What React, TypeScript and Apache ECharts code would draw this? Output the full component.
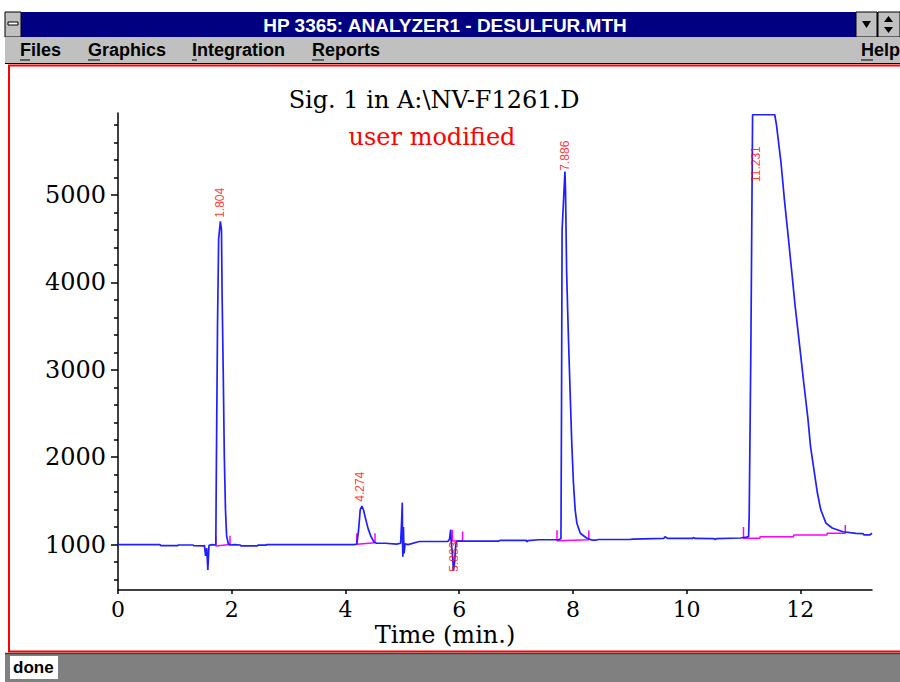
import React, { useEffect, useRef } from "react";
import * as echarts from "echarts";

// ---- data ----
const xTicks = [0, 2, 4, 6, 8, 10, 12];
const yTicks = [1000, 2000, 3000, 4000, 5000];
const yMinorTicks = [600, 800, 1200, 1400, 1600, 1800, 2200, 2400, 2600, 2800, 3200, 3400, 3600, 3800, 4200, 4400, 4600, 4800, 5200, 5400, 5600, 5800];

const signalTime = [
  0, 0.74, 0.75, 1.05, 1.06, 1.32, 1.33, 1.5, 1.52, 1.54, 1.56, 1.58, 1.6, 1.66, 1.7, 1.72, 1.73, 1.75, 1.77, 1.8,
  1.82, 1.83, 1.85, 1.87, 1.89, 1.91, 1.94, 1.97, 2.05, 2.15, 2.16, 2.45, 2.46, 2.6, 2.62, 4.15, 4.2, 4.23, 4.26, 4.29,
  4.32, 4.36, 4.4, 4.45, 4.5, 4.55, 4.7, 4.9, 4.97, 4.99, 5.0, 5.005, 5.01, 5.02, 5.03, 5.05, 5.1, 5.3, 5.8, 5.83,
  5.85, 5.86, 5.88, 5.9, 5.92, 5.94, 5.96, 6.7, 6.72, 7.18, 7.19, 7.21, 7.4, 7.75, 7.79, 7.8, 7.81, 7.86, 7.87, 7.89,
  7.92, 7.95, 7.98, 8.01, 8.04, 8.07, 8.13, 8.24, 8.3, 8.35, 8.4, 8.45, 9.0, 9.05, 9.6, 9.62, 9.66, 10.1, 10.12, 10.15,
  10.48, 10.5, 10.52, 10.95, 11.05, 11.09, 11.1, 11.13, 11.16, 11.55, 11.58, 11.66, 11.72, 11.78, 11.84, 11.91, 11.99, 12.06, 12.13, 12.18,
  12.24, 12.3, 12.36, 12.45, 12.56, 12.75, 12.98, 13.1, 13.12, 13.22, 13.26,
];
const signalValue = [
  1000, 1000, 988, 988, 995, 995, 988, 985, 990, 870, 960, 710, 990, 1000, 995, 1000, 1900, 3500, 4500, 4700,
  4600, 3900, 3000, 2000, 1400, 1100, 1010, 995, 1000, 995, 985, 985, 993, 993, 1000, 1000, 1005, 1160, 1400, 1440,
  1390, 1280, 1180, 1090, 1030, 1015, 1015, 1005, 1015, 1300, 1480, 1000, 860, 1200, 900, 1010, 1000, 1035, 1035, 1060,
  1170, 1030, 900, 700, 800, 1000, 1040, 1040, 1048, 1048, 1032, 1045, 1055, 1055, 1070, 2600, 4600, 5270, 5060, 4110,
  3400, 2770, 2160, 1700, 1395, 1245, 1130, 1075, 1060, 1050, 1050, 1058, 1058, 1062, 1072, 1090, 1072, 1070, 1080, 1070,
  1068, 1058, 1068, 1075, 1085, 1090, 1320, 3266, 5920, 5920, 5805, 5370, 4946, 4568, 4180, 3720, 3260, 2850, 2460, 2117,
  1853, 1590, 1395, 1245, 1190, 1147, 1128, 1125, 1110, 1110, 1130,
];

// integration baselines with start / end marks (null separates peaks)
const baselineTime = [
  1.72, 1.72, 1.97, 1.97, null,
  4.2, 4.2, 4.52, 4.52, null,
  5.88, 5.88, 6.06, 6.06, null,
  7.72, 7.72, 8.28, 8.28, null,
  11.0, 11.0, 11.29, 11.29, 11.88, 11.88, 12.47, 12.47, 12.79, 12.79,
];
const baselineValue = [
  1100, 985, 1000, 1100, null,
  1130, 1005, 1020, 1130, null,
  1170, 1040, 1040, 1150, null,
  1165, 1045, 1055, 1160, null,
  1200, 1071, 1071, 1090, 1090, 1109, 1109, 1130, 1130, 1225,
];

const peakNames = ["1.804", "4.274", "5.883", "7.886", "11.231"];
const peakLabelTime = [1.8, 4.26, 5.905, 7.86, 11.22];
const peakLabelValue = [4740, 1490, 690, 5280, 5150];

const menuItems = ["Files", "Graphics", "Integration", "Reports", "Help"];
const menuX = [20, 88, 192, 312, 861];

const windowTitle = "HP 3365: ANALYZER1 - DESULFUR.MTH";
const chartTitle = "Sig. 1 in A:\\NV-F1261.D";
const chartSubtitle = "user modified";
const xName = "Time (min.)";
const statusText = "done";

const SERIF = '"DejaVu Serif", "Liberation Serif", serif';
const SANS = '"Liberation Sans", Arial, sans-serif';

export default function App() {
  const ref = useRef<HTMLDivElement>(null);
  useEffect(() => {
    if (!ref.current) return;
    const chart = echarts.init(ref.current, null, { renderer: "svg" });

    const signal = signalTime.map((t, i) => [t, signalValue[i]]);
    const baseline = baselineTime.map((t, i) => (t == null ? [null, null] : [t, baselineValue[i]]));
    const peaks = peakNames.map((n, i) => ({ name: n, value: [peakLabelTime[i], peakLabelValue[i]] }));

    const menuGraphics: any[] = [];
    menuItems.forEach((m, i) => {
      menuGraphics.push({
        type: "text",
        x: menuX[i],
        y: 50,
        style: { text: m, fill: "#000", font: `bold 18px ${SANS}`, textVerticalAlign: "middle", textAlign: "left" },
      });
      const w = m[0] === "I" ? 5 : m[0] === "F" ? 10 : 12;
      menuGraphics.push({
        type: "line",
        shape: { x1: menuX[i], y1: 60, x2: menuX[i] + w, y2: 60 },
        style: { stroke: "#000", lineWidth: 1 },
      });
    });

    chart.setOption({
      animation: false,
      backgroundColor: "#ffffff",
      grid: { left: 118, right: 28, top: 113, bottom: 92, containLabel: false },
      xAxis: {
        type: "value",
        min: 0,
        max: 13.26,
        axisLine: { show: true, lineStyle: { color: "#000", width: 1.5 } },
        axisTick: { show: true, length: 4, customValues: xTicks, lineStyle: { color: "#000", width: 1.5 } },
        axisLabel: {
          customValues: xTicks,
          fontFamily: SERIF,
          fontSize: 22,
          lineHeight: 20,
          color: "#000",
          margin: 9,
          formatter: (v: number) => String(v),
        },
        splitLine: { show: false },
      },
      yAxis: [
        {
          type: "value",
          min: 480,
          max: 5940,
          axisLine: { show: true, lineStyle: { color: "#000", width: 1.5 } },
          axisTick: { show: true, length: 7, customValues: yTicks, lineStyle: { color: "#000", width: 1.5 } },
          axisLabel: {
            customValues: yTicks,
            fontFamily: SERIF,
            fontSize: 24,
            color: "#000",
            margin: 12,
            formatter: (v: number) => String(v),
          },
          splitLine: { show: false },
        },
        {
          type: "value",
          min: 480,
          max: 5940,
          position: "left",
          axisLine: { show: false },
          axisTick: { show: true, length: 4, customValues: yMinorTicks, lineStyle: { color: "#000", width: 1.5 } },
          axisLabel: { show: false },
          splitLine: { show: false },
        },
      ],
      series: [
        {
          type: "line",
          data: baseline,
          yAxisIndex: 0,
          showSymbol: false,
          connectNulls: false,
          lineStyle: { color: "#ff00ff", width: 1.5 },
          z: 2,
        },
        {
          type: "line",
          data: signal,
          yAxisIndex: 0,
          showSymbol: false,
          lineStyle: { color: "#2020ff", width: 1.7 },
          z: 3,
        },
        {
          type: "scatter",
          data: peaks,
          yAxisIndex: 0,
          symbolSize: 1,
          itemStyle: { color: "rgba(0,0,0,0)" },
          z: 4,
          label: {
            show: true,
            position: "inside",
            rotate: 90,
            align: "left",
            verticalAlign: "middle",
            formatter: (p: any) => p.name,
            color: "#ff0000",
            fontSize: 12,
            fontFamily: '"Liberation Sans Narrow", "Liberation Sans", sans-serif',
          },
        },
      ],
      graphic: [
        // title bar
        { type: "rect", shape: { x: 5, y: 12, width: 895, height: 25 }, style: { fill: "#000080" } },
        { type: "rect", shape: { x: 5, y: 12, width: 16, height: 25 }, style: { fill: "#c0c0c0", stroke: "#000", lineWidth: 1 } },
        { type: "rect", shape: { x: 8, y: 22, width: 10, height: 3 }, style: { fill: "#fff", stroke: "#000", lineWidth: 1 } },
        { type: "rect", shape: { x: 856, y: 12, width: 21, height: 25 }, style: { fill: "#c0c0c0", stroke: "#000", lineWidth: 1 } },
        { type: "polygon", shape: { points: [[862, 21], [871, 21], [866.5, 28]] }, style: { fill: "#000" } },
        { type: "rect", shape: { x: 878, y: 12, width: 22, height: 25 }, style: { fill: "#c0c0c0", stroke: "#000", lineWidth: 1 } },
        { type: "polygon", shape: { points: [[884, 22], [893, 22], [888.5, 16]] }, style: { fill: "#000" } },
        { type: "polygon", shape: { points: [[884, 27], [893, 27], [888.5, 33]] }, style: { fill: "#000" } },
        {
          type: "text",
          x: 445,
          y: 25,
          style: { text: windowTitle, fill: "#fff", font: `bold 19px ${SANS}`, textAlign: "center", textVerticalAlign: "middle" },
        },
        // menu bar
        { type: "rect", shape: { x: 5, y: 37, width: 895, height: 26 }, style: { fill: "#c0c0c0" } },
        { type: "line", shape: { x1: 5, y1: 63.5, x2: 900, y2: 63.5 }, style: { stroke: "#000", lineWidth: 1 } },
        ...menuGraphics,
        // red client frame
        { type: "rect", shape: { x: 9, y: 65.5, width: 900, height: 586 }, style: { fill: "none", stroke: "#ff0000", lineWidth: 2 } },
        // status bar
        { type: "rect", shape: { x: 5, y: 653, width: 895, height: 29 }, style: { fill: "#808080" } },
        { type: "line", shape: { x1: 5, y1: 653.5, x2: 900, y2: 653.5 }, style: { stroke: "#404040", lineWidth: 1.5 } },
        { type: "rect", shape: { x: 10, y: 656, width: 48, height: 23 }, style: { fill: "#fff" } },
        {
          type: "text",
          x: 13,
          y: 667.5,
          style: { text: statusText, fill: "#000", font: `bold 17px ${SANS}`, textAlign: "left", textVerticalAlign: "middle" },
        },
        // chart titles
        {
          type: "text",
          x: 434,
          y: 100,
          style: { text: chartTitle, fill: "#000", font: `24px ${SERIF}`, textAlign: "center", textVerticalAlign: "middle" },
        },
        {
          type: "text",
          x: 432,
          y: 137,
          style: { text: chartSubtitle, fill: "#ff0000", font: `24px ${SERIF}`, textAlign: "center", textVerticalAlign: "middle" },
        },
        {
          type: "text",
          x: 445,
          y: 635,
          style: { text: xName, fill: "#000", font: `24px ${SERIF}`, textAlign: "center", textVerticalAlign: "middle" },
        },
      ],
    });
    return () => chart.dispose();
  }, []);
  return (
    <div style={{ position: "fixed", left: 0, top: 0, width: 900, height: 682 }}>
      <div ref={ref} style={{ width: 900, height: 682 }} />
    </div>
  );
}
